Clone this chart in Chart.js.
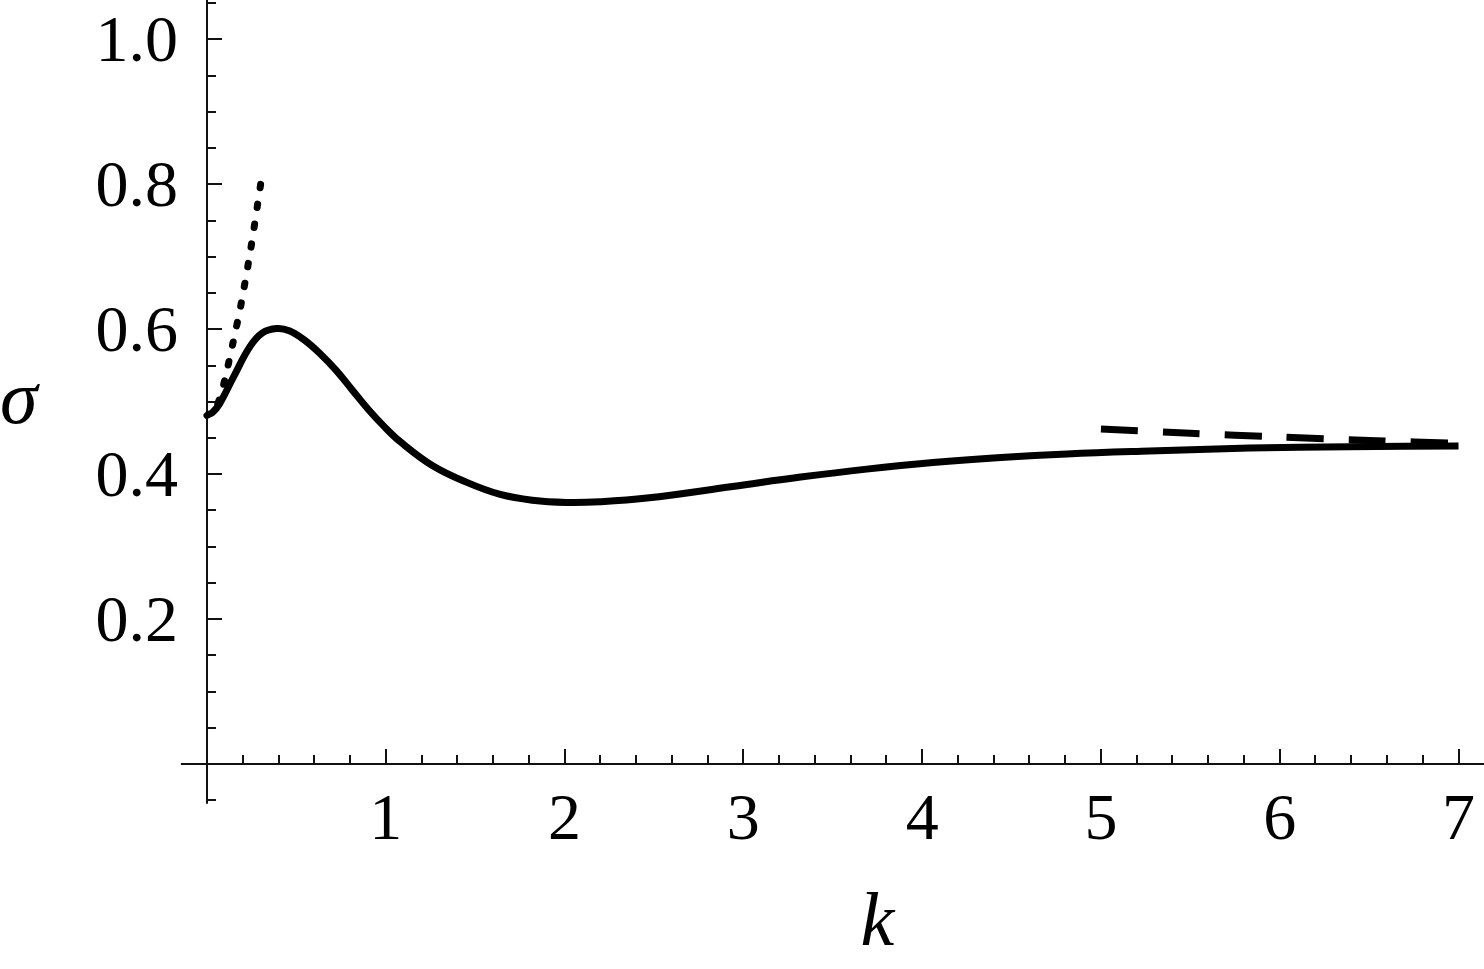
<!DOCTYPE html>
<html>
<head>
<meta charset="utf-8">
<script src="https://cdn.jsdelivr.net/npm/chart.js@4/dist/chart.umd.min.js"></script>
<style>
  html, body { margin: 0; padding: 0; background: #fff; }
  canvas { display: block; }
</style>
</head>
<body>
<canvas id="sigma-chart" width="1484" height="969"></canvas>
<script>
// ---- data ----
const solidK     = [0, 0.03, 0.07, 0.15, 0.24, 0.31, 0.39, 0.46, 0.54, 0.63, 0.72, 0.81, 0.90, 0.99, 1.08, 1.26, 1.45, 1.64, 1.82, 2.01, 2.20, 2.46, 2.94, 3.32, 3.69, 4.06, 4.44, 4.81, 5.27, 5.83, 6.39, 7.0];
const solidSigma = [0.482, 0.485, 0.497, 0.535, 0.576, 0.595, 0.601, 0.598, 0.586, 0.567, 0.544, 0.517, 0.490, 0.466, 0.445, 0.412, 0.389, 0.372, 0.364, 0.361, 0.362, 0.367, 0.383, 0.396, 0.407, 0.416, 0.423, 0.428, 0.432, 0.436, 0.438, 0.439];

// listed from the top end so the first dot sits at the tip
const dottedK     = [0.30, 0.246, 0.19, 0.146, 0.101, 0.073, 0.04, 0];
const dottedSigma = [0.800, 0.713, 0.634, 0.582, 0.532, 0.506, 0.488, 0.481];

const dashedK     = [5, 5.5, 6, 6.5, 7];
const dashedSigma = [0.4625, 0.4565, 0.4512, 0.4465, 0.4425];

const kTickLabels     = [1, 2, 3, 4, 5, 6, 7];
const sigmaTickLabels = [0.2, 0.4, 0.6, 0.8, 1.0];

// axis ranges (the whole canvas is the plot area)
const K_MIN = -1.1578, K_MAX = 7.1425;
const S_MIN = -0.283,  S_MAX = 1.0545;

const FONT = '"Liberation Serif", "Times New Roman", serif';

const pts = (xs, ys) => xs.map((x, i) => ({ x, y: ys[i] }));

// Mathematica-style axes crossing at the origin, ticks pointing inward
const axesPlugin = {
  id: 'mmaAxes',
  beforeDatasetsDraw(chart) {
    const { ctx, scales: { x, y } } = chart;
    const x0 = x.getPixelForValue(0);
    const y0 = y.getPixelForValue(0);
    ctx.save();
    ctx.strokeStyle = '#111';
    ctx.lineWidth = 2;

    // axis lines
    ctx.beginPath();
    ctx.moveTo(x.getPixelForValue(-0.146), y0);
    ctx.lineTo(x.getPixelForValue(K_MAX), y0);
    ctx.moveTo(x0, y.getPixelForValue(-0.055));
    ctx.lineTo(x0, y.getPixelForValue(S_MAX));
    ctx.stroke();

    // k ticks every 0.2, major at integers
    ctx.beginPath();
    for (let i = 1; i <= 35; i++) {
      const px = Math.round(x.getPixelForValue(i * 0.2));
      const len = i % 5 === 0 ? 15 : 9;
      ctx.moveTo(px, y0);
      ctx.lineTo(px, y0 - len);
    }
    // sigma ticks every 0.05, major at 0.2 steps
    for (let i = -1; i <= 21; i++) {
      if (i === 0) continue;
      const py = Math.round(y.getPixelForValue(i * 0.05));
      const len = i % 4 === 0 ? 15 : 9;
      ctx.moveTo(x0, py);
      ctx.lineTo(x0 + len, py);
    }
    ctx.stroke();

    // tick labels
    ctx.fillStyle = '#000';
    ctx.font = '66px ' + FONT;
    ctx.textBaseline = 'alphabetic';
    ctx.textAlign = 'center';
    kTickLabels.forEach(v => {
      ctx.fillText(String(v), x.getPixelForValue(v), y0 + 75);
    });
    ctx.textAlign = 'right';
    sigmaTickLabels.forEach(v => {
      ctx.fillText(v.toFixed(1), x0 - 29, y.getPixelForValue(v) + 22);
    });

    // axis titles
    ctx.font = 'italic 76px ' + FONT;
    ctx.textAlign = 'center';
    ctx.fillText('k', x.getPixelForValue(3.75), 945);
    ctx.textAlign = 'left';
    ctx.fillText('σ', 0, 423);
    ctx.restore();
  }
};

new Chart(document.getElementById('sigma-chart'), {
  type: 'line',
  data: {
    datasets: [
      {
        label: 'sigma',
        data: pts(solidK, solidSigma),
        borderColor: '#000',
        borderWidth: 7,
        tension: 0.4,
        pointRadius: 0,
        fill: false,
      },
      {
        label: 'small k',
        data: pts(dottedK, dottedSigma),
        borderColor: '#000',
        borderWidth: 7,
        borderDash: [3.5, 16.5],
        borderCapStyle: 'round',
        tension: 0.3,
        pointRadius: 0,
        fill: false,
      },
      {
        label: 'large k',
        data: pts(dashedK, dashedSigma),
        borderColor: '#000',
        borderWidth: 7,
        borderDash: [37, 25],
        borderCapStyle: 'butt',
        tension: 0.3,
        pointRadius: 0,
        fill: false,
      },
    ],
  },
  options: {
    responsive: false,
    animation: false,
    devicePixelRatio: 1,
    layout: { padding: 0 },
    plugins: {
      legend: { display: false },
      tooltip: { enabled: false },
    },
    scales: {
      x: { type: 'linear', min: K_MIN, max: K_MAX, display: false },
      y: { type: 'linear', min: S_MIN, max: S_MAX, display: false },
    },
  },
  plugins: [axesPlugin],
});
</script>
</body>
</html>
